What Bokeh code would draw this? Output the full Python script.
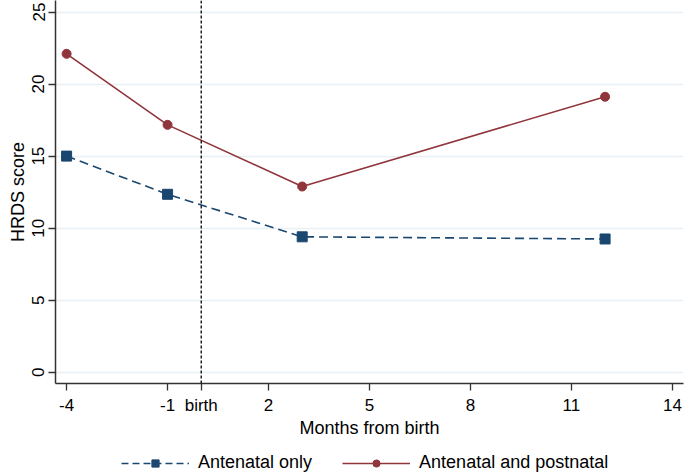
from bokeh.plotting import figure
from bokeh.layouts import column
from bokeh.models import (ColumnDataSource, Range1d, FixedTicker, Span,
                          Legend, LegendItem)
from bokeh.embed import file_html
from bokeh.resources import INLINE

# ---- data ----
months = [-4, -1, 3, 12]
antenatal_only = [15.0, 12.35, 9.4, 9.25]
antenatal_postnatal = [22.1, 17.17, 12.89, 19.12]
x_ticks = [-4, -1, 0, 2, 5, 8, 11, 14]
x_tick_labels = ["-4", "-1", "birth", "2", "5", "8", "11", "14"]
y_ticks = [0, 5, 10, 15, 20, 25]
birth_month = 0
series_names = ["Antenatal only", "Antenatal and postnatal"]

NAVY = "#1a476f"
MAROON = "#90353b"
FONT = "Liberation Sans"

p = figure(width=685, height=440, output_backend="svg", toolbar_location=None,
           x_range=Range1d(-4.33, 14.33), y_range=Range1d(-0.78, 25.8))
p.min_border_top = 0
p.min_border_right = 2
p.min_border_left = 55
p.min_border_bottom = 53
p.outline_line_color = None
p.background_fill_color = "white"

# grid
p.xgrid.grid_line_color = None
p.ygrid.grid_line_color = "#e8f0f3"
p.ygrid.grid_line_width = 1.5
p.ygrid.ticker = FixedTicker(ticks=y_ticks)

# axes
for ax in (p.xaxis[0], p.yaxis[0]):
    ax.axis_line_color = "#333333"
    ax.axis_line_width = 1.5
    ax.major_tick_line_color = "#333333"
    ax.major_tick_line_width = 1.3
    ax.major_tick_out = 7
    ax.major_tick_in = 0
    ax.minor_tick_line_color = None
    ax.major_label_text_font = FONT
    ax.major_label_text_font_size = "17px"
    ax.major_label_text_color = "black"
    ax.axis_label_text_font = FONT
    ax.axis_label_text_font_size = "18px"
    ax.axis_label_text_font_style = "normal"
    ax.axis_label_text_color = "black"

p.xaxis.ticker = FixedTicker(ticks=x_ticks)
p.xaxis.major_label_overrides = dict(zip(x_ticks, x_tick_labels))
p.xaxis.axis_label = "Months from birth"
p.xaxis.major_label_standoff = 5
p.xaxis.axis_label_standoff = 0

p.yaxis.ticker = FixedTicker(ticks=y_ticks)
p.yaxis.axis_label = "HRDS score"
p.yaxis.major_label_orientation = "vertical"
p.yaxis.major_label_standoff = 4
p.yaxis.axis_label_standoff = 2

# birth marker line
p.add_layout(Span(location=birth_month, dimension="height", line_color="black",
                  line_dash="3 2", line_width=1.3))

# series
src_a = ColumnDataSource(dict(x=months, y=antenatal_only))
src_b = ColumnDataSource(dict(x=months, y=antenatal_postnatal))

p.line("x", "y", source=src_a, line_color=NAVY, line_width=1.6, line_dash="9 5")
p.scatter("x", "y", source=src_a, marker="square", size=10,
          fill_color=NAVY, line_color=NAVY)
p.line("x", "y", source=src_b, line_color=MAROON, line_width=1.6)
p.scatter("x", "y", source=src_b, marker="circle", size=9,
          fill_color=MAROON, line_color=MAROON)

# ---- legend strip below the chart (same series, nothing visible in its frame) ----
q = figure(width=685, height=35, output_backend="svg", toolbar_location=None,
           x_range=Range1d(100, 101), y_range=Range1d(100, 101),
           x_axis_type=None, y_axis_type=None)
q.min_border_top = q.min_border_bottom = 0
q.min_border_left = 55
q.min_border_right = 2
q.outline_line_color = None
q.xgrid.grid_line_color = None
q.ygrid.grid_line_color = None

ka = q.line("x", "y", source=src_a, line_color=NAVY, line_width=1.6, line_dash="7 4")
kma = q.scatter("x", "y", source=src_a, marker="square", size=8,
                fill_color=NAVY, line_color=NAVY)
kb = q.line("x", "y", source=src_b, line_color=MAROON, line_width=1.6)
kmb = q.scatter("x", "y", source=src_b, marker="circle", size=7,
                fill_color=MAROON, line_color=MAROON)

legend = Legend(items=[LegendItem(label=series_names[0], renderers=[ka, kma]),
                       LegendItem(label=series_names[1], renderers=[kb, kmb])],
                orientation="horizontal", location=(66, 2),
                label_text_font=FONT, label_text_font_size="18px",
                label_text_color="black",
                glyph_width=68, glyph_height=18, label_standoff=9, spacing=30,
                border_line_color=None, background_fill_alpha=0,
                padding=0, margin=0)
q.add_layout(legend, "center")

layout = column(p, q, spacing=0)
open("out.html", "w").write(file_html(layout, INLINE))
